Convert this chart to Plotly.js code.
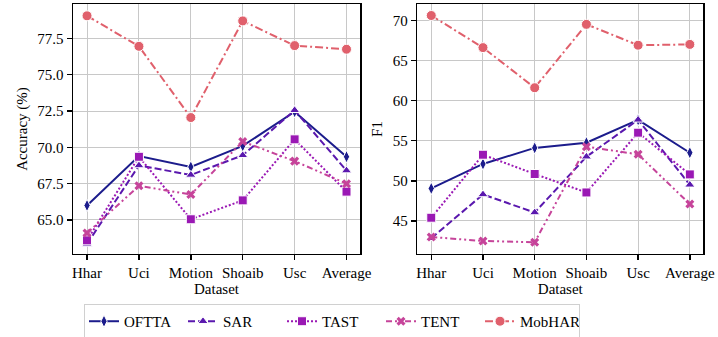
<!DOCTYPE html>
<html><head><meta charset="utf-8">
<script src="https://cdn.plot.ly/plotly-3.0.1.min.js"></script>
<style>html,body{margin:0;padding:0;background:#fff;}#chart{width:718px;height:337px;}</style>
</head><body><div id="chart"></div>
<script>
const categories = ["Hhar", "Uci", "Motion", "Shoaib", "Usc", "Average"];
const methods = ["OFTTA", "SAR", "TAST", "TENT", "MobHAR"];

const accOFTTA  = [66.0, 69.4, 68.65, 70.1, 72.45, 69.35];
const accSAR    = [63.35, 68.75, 68.1, 69.45, 72.55, 68.4];
const accTAST   = [63.6, 69.35, 65.05, 66.35, 70.55, 66.95];
const accTENT   = [64.1, 67.35, 66.75, 70.4, 69.05, 67.5];
const accMobHAR = [79.05, 76.95, 72.05, 78.7, 77.0, 76.75];

const f1OFTTA  = [49.05, 52.1, 54.1, 54.75, 57.6, 53.5];
const f1SAR    = [42.85, 48.3, 46.05, 53.0, 57.6, 49.5];
const f1TAST   = [45.4, 53.25, 50.85, 48.55, 56.0, 50.8];
const f1TENT   = [43.0, 42.5, 42.35, 54.25, 53.3, 47.1];
const f1MobHAR = [70.6, 66.6, 61.6, 69.5, 66.9, 67.0];

const accData = [accOFTTA, accSAR, accTAST, accTENT, accMobHAR];
const f1Data = [f1OFTTA, f1SAR, f1TAST, f1TENT, f1MobHAR];

const colors = ["#1c1c8c", "#5a18ae", "#9a18b4", "#c6449a", "#e0606c"];
const dashes = ["solid", "7px,3px", "2px,2px", "6px,3px,2px,3px,2px,3px", "8px,3px,2px,3px"];
const symbols = ["diamond-tall", "triangle-up", "square", "x", "circle"];
const sizes = [9, 9, 9, 8, 10];

const traces = [];
[accData, f1Data].forEach((set, k) => {
  set.forEach((vals, i) => {
    traces.push({
      x: categories, y: vals, type: "scatter", mode: "lines+markers",
      name: methods[i], legendgroup: methods[i], showlegend: k === 0,
      xaxis: k === 0 ? "x" : "x2", yaxis: k === 0 ? "y" : "y2",
      line: {color: colors[i], width: 2, dash: dashes[i]},
      marker: {symbol: symbols[i], size: sizes[i], color: colors[i], line: {color: "#ffffff", width: i === 3 ? 0 : 1}}
    });
  });
});

function mf() { return {family: "Liberation Serif", size: 15, color: "#000"}; }
function xax(dom, anchor) {
  return {
    type: "category", range: [-0.27, 5.26], domain: dom, anchor: anchor,
    showgrid: true, gridcolor: "#c8c8c8", gridwidth: 1,
    showline: true, mirror: true, linecolor: "#000", linewidth: 1.5,
    ticks: "outside", ticklen: 5, tickwidth: 1.5, tickcolor: "#000", zeroline: false,
    title: {text: "Dataset", font: mf(), standoff: 0}, tickfont: mf(), automargin: false
  };
}
function yax(anchor, range, tv, tt, title) {
  return {
    domain: [0.2463, 0.988], anchor: anchor, range: range, tickvals: tv, ticktext: tt,
    showgrid: true, gridcolor: "#c8c8c8", gridwidth: 1,
    showline: true, mirror: true, linecolor: "#000", linewidth: 1.5,
    ticks: "outside", ticklen: 5, tickwidth: 1.5, tickcolor: "#000", zeroline: false,
    tickfont: mf(), automargin: false,
    title: {text: title, font: mf(), standoff: 6}
  };
}

const layout = {
  width: 718, height: 337,
  margin: {l: 0, r: 0, t: 0, b: 0, autoexpand: false},
  paper_bgcolor: "#fff", plot_bgcolor: "#fff",
  font: mf(),
  xaxis: xax([0.1017, 0.5014], "y"),
  xaxis2: xax([0.5812, 0.9795], "y2"),
  yaxis: yax("x", [62.66, 79.86], [65, 67.5, 70, 72.5, 75, 77.5], ["65.0", "67.5", "70.0", "72.5", "75.0", "77.5"], "Accuracy (%)"),
  yaxis2: yax("x2", [40.88, 72.03], [45, 50, 55, 60, 65, 70], ["45", "50", "55", "60", "65", "70"], "F1"),
  legend: {
    orientation: "h", x: 0.117, xanchor: "left", y: 0.098, yanchor: "top",
    bordercolor: "#d0d0d0", borderwidth: 1, bgcolor: "#fff",
    font: mf(), entrywidth: 54, itemwidth: 30, tracegroupgap: 0
  }
};

Plotly.newPlot("chart", traces, layout, {displayModeBar: false, staticPlot: true});
</script>
</body></html>
